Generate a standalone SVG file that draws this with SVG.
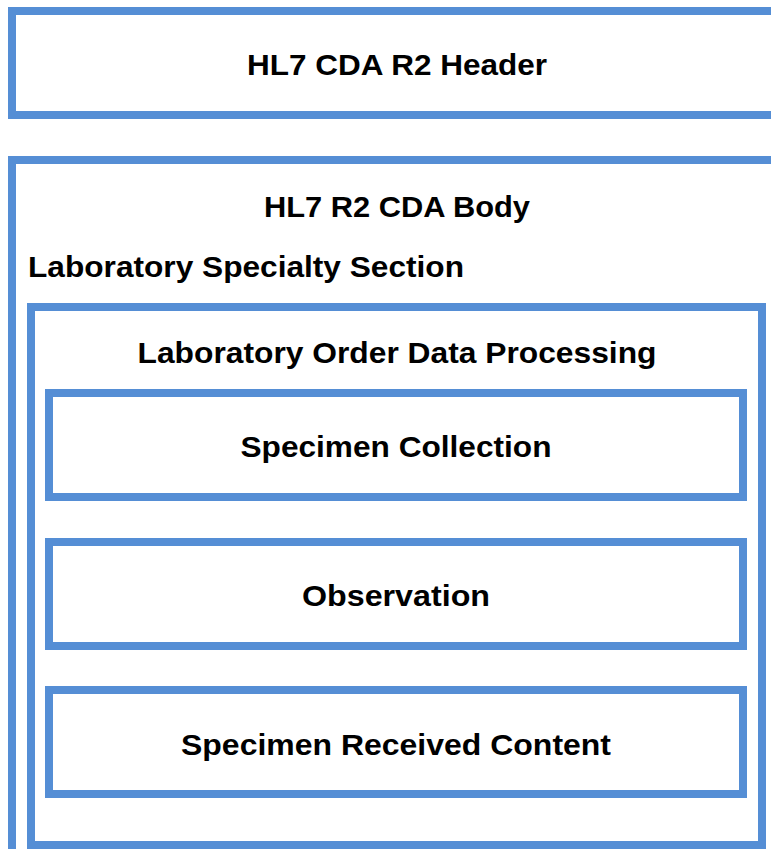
<svg xmlns="http://www.w3.org/2000/svg" width="771" height="851" viewBox="0 0 771 851">
<style>
.box{fill:none;stroke:#558ED5;stroke-width:8}
.t{font-family:"Liberation Sans",Arial,sans-serif;font-weight:bold;font-size:30px;fill:#000}
.c{text-anchor:middle}
</style>
<rect width="771" height="851" fill="#fff"/>
<g id="header">
<rect class="box" x="12" y="11" width="780" height="104"/>
<text class="t c" x="397" y="75" textLength="300" lengthAdjust="spacingAndGlyphs">HL7 CDA R2 Header</text>
</g>
<g id="body">
<path class="box" d="M12,849 V160 H790"/>
<text class="t c" x="397" y="217" textLength="266" lengthAdjust="spacingAndGlyphs">HL7 R2 CDA Body</text>
<text class="t" x="28" y="277" textLength="436" lengthAdjust="spacingAndGlyphs">Laboratory Specialty Section</text>
</g>
<g id="lab-order">
<rect class="box" x="31" y="307" width="731" height="538"/>
<text class="t c" x="397" y="363" textLength="519" lengthAdjust="spacingAndGlyphs">Laboratory Order Data Processing</text>
</g>
<g id="specimen-collection">
<rect class="box" x="49" y="393" width="694" height="104"/>
<text class="t c" x="396" y="457" textLength="311" lengthAdjust="spacingAndGlyphs">Specimen Collection</text>
</g>
<g id="observation">
<rect class="box" x="49" y="542" width="694" height="104"/>
<text class="t c" x="396" y="606" textLength="188" lengthAdjust="spacingAndGlyphs">Observation</text>
</g>
<g id="specimen-received">
<rect class="box" x="49" y="690" width="694" height="104"/>
<text class="t c" x="396" y="755" textLength="430" lengthAdjust="spacingAndGlyphs">Specimen Received Content</text>
</g>
<g id="connectors"/>
</svg>
